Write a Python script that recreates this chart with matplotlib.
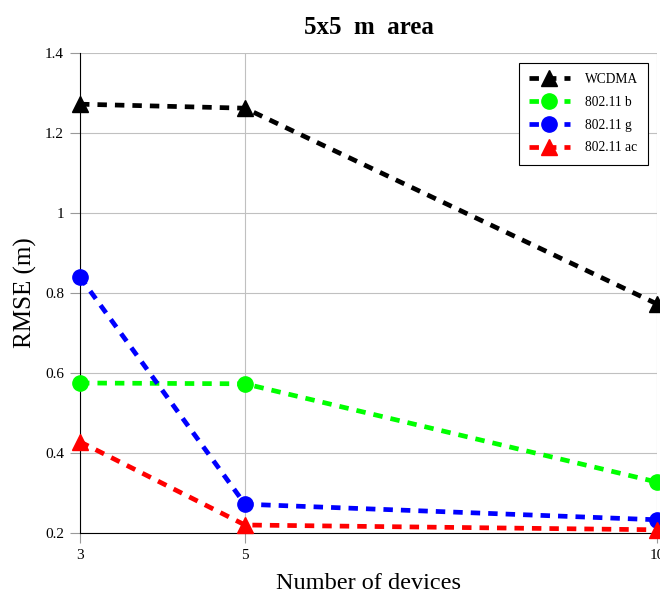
import matplotlib
matplotlib.use("Agg")
import matplotlib.pyplot as plt

plt.rcParams['font.family'] = ['Liberation Serif', 'DejaVu Serif']

devices = [3, 5, 10]
wcdma = [1.272, 1.262, 0.772]
wifi_b = [0.575, 0.573, 0.327]
wifi_g = [0.840, 0.272, 0.233]
wifi_ac = [0.428, 0.220, 0.208]

series = [
    ("WCDMA", wcdma, "black", "^"),
    ("802.11 b", wifi_b, "#00ff00", "o"),
    ("802.11 g", wifi_g, "blue", "o"),
    ("802.11 ac", wifi_ac, "red", "^"),
]

yticks = [0.2, 0.4, 0.6, 0.8, 1.0, 1.2, 1.4]
ytick_labels = ["0.2", "0.4", "0.6", "0.8", "1", "1.2", "1.4"]

fig = plt.figure(figsize=(6.6, 5.98), dpi=100)
ax = fig.add_axes([0.1212, 0.1087, 0.875, 0.8027])

for name, vals, color, mk in series:
    ax.plot(devices, vals, color=color, linestyle=(0, (2.0, 1.7)), linewidth=3.4,
            marker=mk, markersize=12 if mk == "^" else 11, label=name,
            clip_on=False, zorder=3)

ax.set_xlim(3, 10)
ax.set_ylim(0.2, 1.4)
ax.set_xticks(devices)
ax.set_xticklabels([str(d) for d in devices])
ax.set_yticks(yticks)
ax.set_yticklabels(ytick_labels)
ax.grid(True, color="#c0c0c0", linewidth=0.8)
ax.set_axisbelow(True)
ax.spines['top'].set_visible(False)
ax.spines['right'].set_visible(False)
ax.tick_params(labelsize=11, direction='out', length=7.5, width=0.8,
               color="#999999", pad=4)

ax.set_title("5x5  m  area", fontsize=18, fontweight="bold", pad=14)
ax.set_xlabel("Number of devices", fontsize=17.5, labelpad=8)
ax.set_ylabel("RMSE (m)", fontsize=18, labelpad=6)

leg = ax.legend(loc="upper right", bbox_to_anchor=(0.9835, 0.979), borderaxespad=0,
                fontsize=9.75, fancybox=False, edgecolor="black", framealpha=1,
                handlelength=3.0, borderpad=0.75, labelspacing=0.72, handletextpad=1.1)
leg.get_frame().set_linewidth(0.8)

fig.savefig("out.png", dpi=100)
